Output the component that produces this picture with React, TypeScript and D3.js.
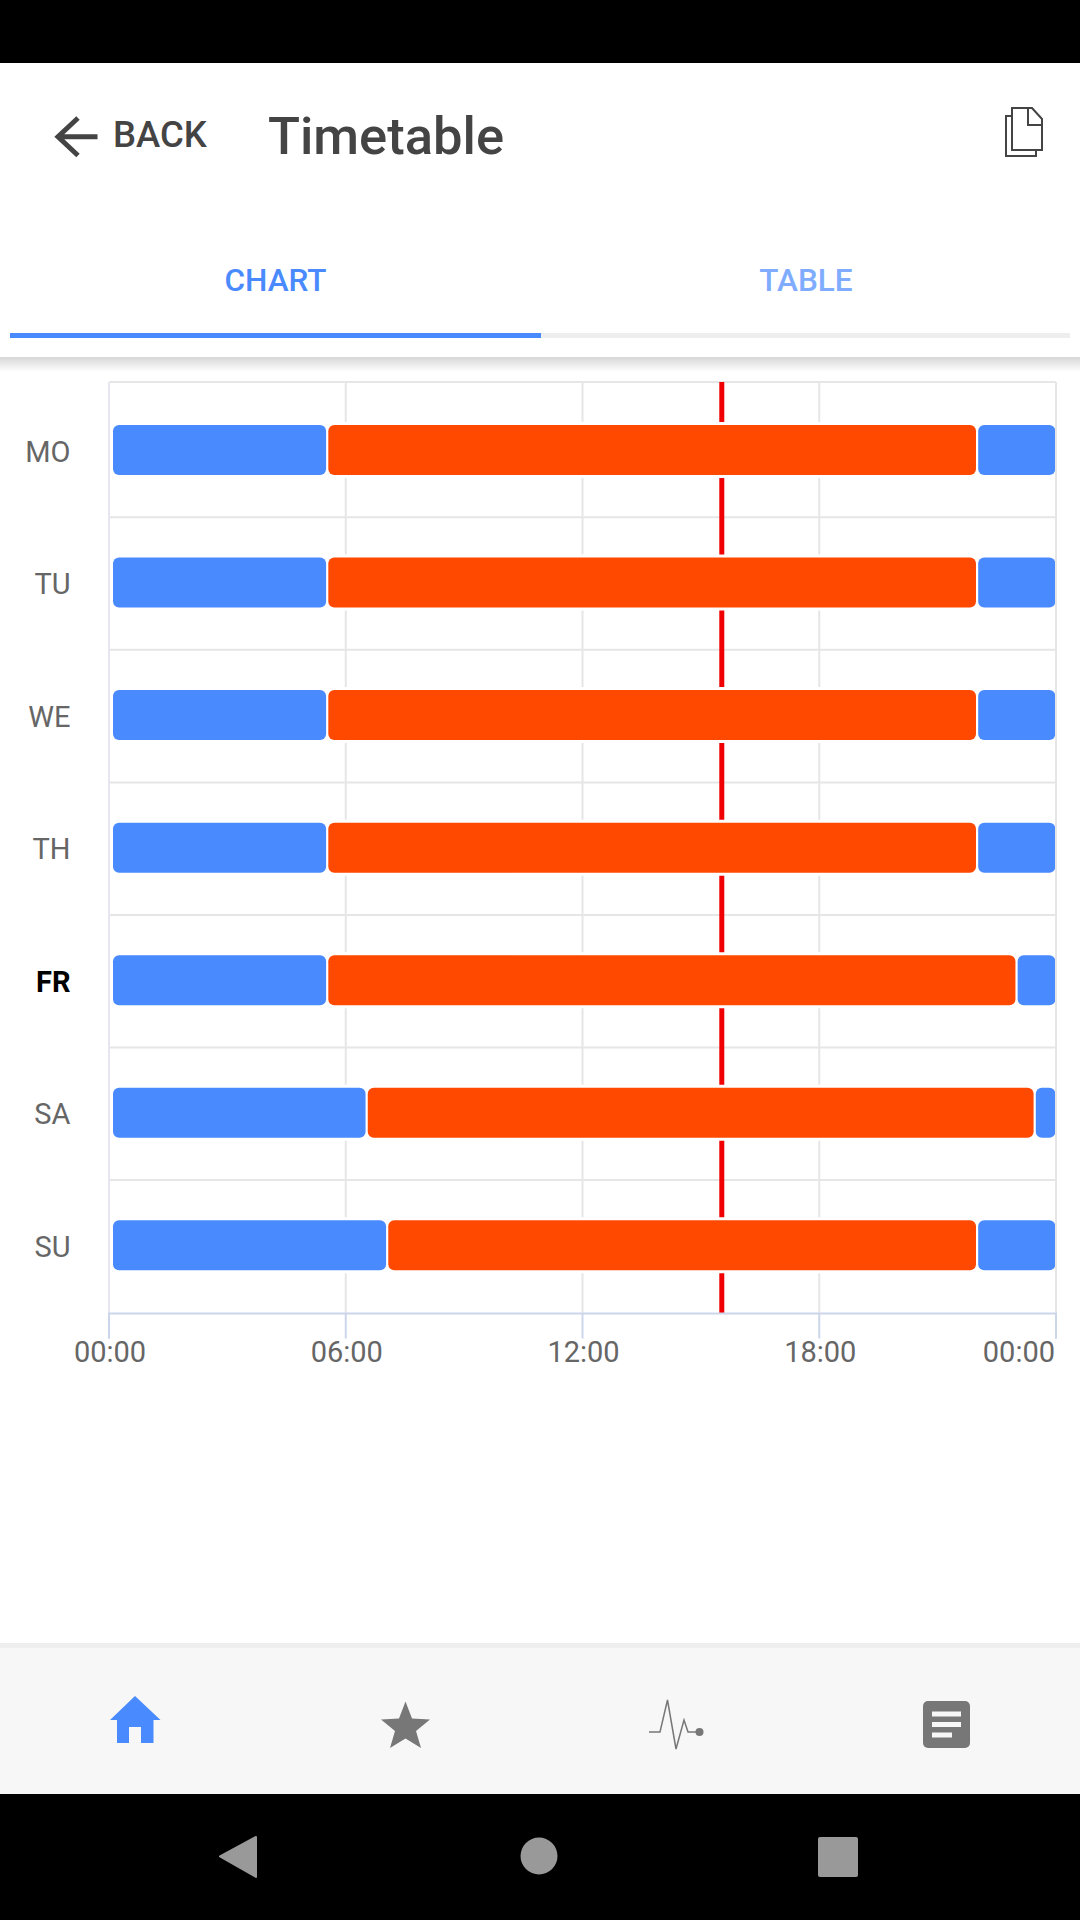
import { useEffect, useRef } from 'react'
import * as d3 from 'd3'

const days = ['MO', 'TU', 'WE', 'TH', 'FR', 'SA', 'SU']
const today = 'FR'
// hours of the day where the orange stretch begins and ends
const orangeStart = [5.53, 5.53, 5.53, 5.53, 5.53, 6.53, 7.05]
const orangeEnd = [22, 22, 22, 22, 23, 23.46, 22]
const nowHour = 15.53
const hourTicks = [0, 6, 12, 18, 24]
const tickLabels = ['00:00', '06:00', '12:00', '18:00', '00:00']

const BLUE = '#4a8aff'
const ORANGE = '#ff4800'
const FONT = 'Roboto, sans-serif'

function Chart() {
  const ref = useRef<SVGGElement>(null)

  useEffect(() => {
    if (!ref.current) return
    const g = d3.select(ref.current)
    g.selectAll('*').remove()

    const top = 382
    const bottom = 1313.5
    const x = d3.scaleLinear().domain([0, 24]).range([109, 1056])
    const y = d3.scalePoint().domain(days).range([450, 1245.3])
    const barH = 50

    // horizontal row dividers
    g.append('line').attr('x1', x(0)).attr('x2', x(24)).attr('y1', top).attr('y2', top)
      .attr('stroke', '#e6e6e6').attr('stroke-width', 2)
    g.selectAll('.row').data(days.slice(1)).join('line')
      .attr('x1', x(0)).attr('x2', x(24))
      .attr('y1', d => (y(d) as number) - y.step() / 2 + 1)
      .attr('y2', d => (y(d) as number) - y.step() / 2 + 1)
      .attr('stroke', '#e6e6e6').attr('stroke-width', 2)

    // vertical grid
    g.selectAll('.grid').data(hourTicks).join('line')
      .attr('x1', d => x(d)).attr('x2', d => x(d))
      .attr('y1', top).attr('y2', bottom)
      .attr('stroke', '#e6e6e6').attr('stroke-width', 2)

    g.append('line')
      .attr('x1', x(nowHour)).attr('x2', x(nowHour))
      .attr('y1', top).attr('y2', bottom)
      .attr('stroke', '#f00000').attr('stroke-width', 5)

    const segments = days.flatMap((d, i) => [
      { day: d, from: 0, to: orangeStart[i], color: BLUE },
      { day: d, from: orangeStart[i], to: orangeEnd[i], color: ORANGE },
      { day: d, from: orangeEnd[i], to: 24, color: BLUE },
    ])
    const left = (s: { from: number }) => (s.from === 0 ? x(0) + 4 : x(s.from) + 1.1)
    const right = (s: { to: number }) => (s.to === 24 ? x(24) - 0.6 : x(s.to) - 1.1)

    // white halo goes first so it cuts the grid lines but not the neighbouring bar
    const bars = (cls: string) =>
      g.selectAll('.' + cls).data(segments).join('rect')
        .attr('x', left)
        .attr('y', d => (y(d.day) as number) - barH / 2)
        .attr('width', d => right(d) - left(d))
        .attr('height', barH)
        .attr('rx', 6)
    bars('halo').attr('fill', '#fff').attr('stroke', '#fff').attr('stroke-width', 6)
    bars('bar').attr('fill', d => d.color)

    // right edge sits on top of the halos
    g.append('line').attr('x1', x(24)).attr('x2', x(24)).attr('y1', top).attr('y2', bottom)
      .attr('stroke', '#e6e6e6').attr('stroke-width', 2)
    g.append('line').attr('x1', x(0)).attr('x2', x(0)).attr('y1', top).attr('y2', bottom)
      .attr('stroke', '#e6e6ee').attr('stroke-width', 2)

    const axis = g.append('g')
      .attr('transform', `translate(0,${bottom})`)
      .call(
        d3.axisBottom(x)
          .tickValues(hourTicks)
          .tickFormat((_, i) => tickLabels[i])
          .tickSize(25)
          .tickPadding(0)
          .offset(0),
      )
    axis.select('.domain').attr('stroke', '#ccd6eb').attr('stroke-width', 2)
    axis.selectAll('.tick line').attr('stroke', '#ccd6eb').attr('stroke-width', 2)
    axis.selectAll('.tick text')
      .attr('y', 48)
      .attr('dy', 0)
      .attr('dx', 1)
      .attr('fill', '#666')
      .attr('font-family', FONT)
      .attr('font-size', 29)
    axis.selectAll('.tick:last-of-type text').attr('text-anchor', 'end').attr('dx', -1)

    g.selectAll('.day').data(days).join('text')
      .attr('x', 70.5)
      .attr('y', d => (y(d) as number) + 11.5)
      .attr('text-anchor', 'end')
      .attr('font-family', FONT)
      .attr('font-size', 29)
      .attr('font-weight', d => (d === today ? 700 : 400))
      .attr('fill', d => (d === today ? '#000' : '#666'))
      .text(d => d)
  }, [])

  return <g ref={ref} />
}

export default function App() {
  return (
    <svg
      width={1080}
      height={1920}
      viewBox="0 0 1080 1920"
      style={{ position: 'absolute', left: 0, top: 0, background: '#fff' }}
    >
      <defs>
        <linearGradient id="headerShadow" x1="0" x2="0" y1="0" y2="1">
          <stop offset="0" stopColor="#000" stopOpacity={0.16} />
          <stop offset="1" stopColor="#000" stopOpacity={0} />
        </linearGradient>
      </defs>

      {/* status bar */}
      <rect x={0} y={0} width={1080} height={63} fill="#000" />

      {/* header */}
      <path d="M78 118 L58 136.7 L78 155.5 M58 136.7 H97.5" fill="none" stroke="#444" strokeWidth={5} />
      <text x={113} y={146.5} fontFamily={FONT} fontSize={36.5} fontWeight={500} fill="#444">BACK</text>
      <text x={268} y={154} fontFamily={FONT} fontSize={52.5} fontWeight={500} fill="#444">Timetable</text>
      <g fill="none" stroke="#444" strokeWidth={2}>
        <path d="M1012 108 H1032 L1042 119 V150 H1012 Z" />
        <path d="M1028 108 V125 H1042" />
        <path d="M1012 116 H1006 V156 H1036 V150" />
      </g>

      {/* tabs */}
      <text x={275.5} y={291} textAnchor="middle" fontFamily={FONT} fontSize={31.5} fontWeight={500} fill={BLUE}>CHART</text>
      <text x={806} y={291} textAnchor="middle" fontFamily={FONT} fontSize={31.5} fontWeight={500} fill="#80acff">TABLE</text>
      <rect x={540} y={333} width={530} height={5} fill="#eee" />
      <rect x={10} y={333} width={531} height={5} fill={BLUE} />
      <rect x={0} y={357} width={1080} height={15} fill="url(#headerShadow)" />

      <Chart />

      {/* bottom nav */}
      <rect x={0} y={1643} width={1080} height={151} fill="#f7f7f7" />
      <rect x={0} y={1643} width={1080} height={5} fill="#eee" />
      <path d="M135 1696 L160.5 1720 H153.5 V1743 H141 V1727 H129 V1743 H117 V1720 H110 Z" fill={BLUE} />
      <path
        d="M405.5 1701.5 L412 1718.5 L430 1719.5 L416 1731 L421 1748 L405.5 1738.5 L390 1748 L395 1731 L381 1719.5 L399 1718.5 Z"
        fill="#777"
      />
      <path
        d="M649 1732 H660 L667.5 1700 L676 1749 L684 1720 L688 1732 H699"
        fill="none"
        stroke="#777"
        strokeWidth={1.5}
      />
      <circle cx={699.5} cy={1732} r={4} fill="#777" />
      <rect x={923} y={1701} width={47} height={47} rx={5} fill="#777" />
      <rect x={932} y={1711.5} width={29} height={5} fill="#f7f7f7" />
      <rect x={932} y={1722} width={29} height={5} fill="#f7f7f7" />
      <rect x={932} y={1732.5} width={20} height={5} fill="#f7f7f7" />

      {/* android nav */}
      <rect x={0} y={1794} width={1080} height={126} fill="#000" />
      <path d="M256 1837 V1877 L220 1856.5 Z" fill="#999" stroke="#999" strokeWidth={2} strokeLinejoin="round" />
      <circle cx={539} cy={1856} r={18.5} fill="#999" />
      <rect x={818} y={1837} width={40} height={40} rx={2} fill="#999" />
    </svg>
  )
}
